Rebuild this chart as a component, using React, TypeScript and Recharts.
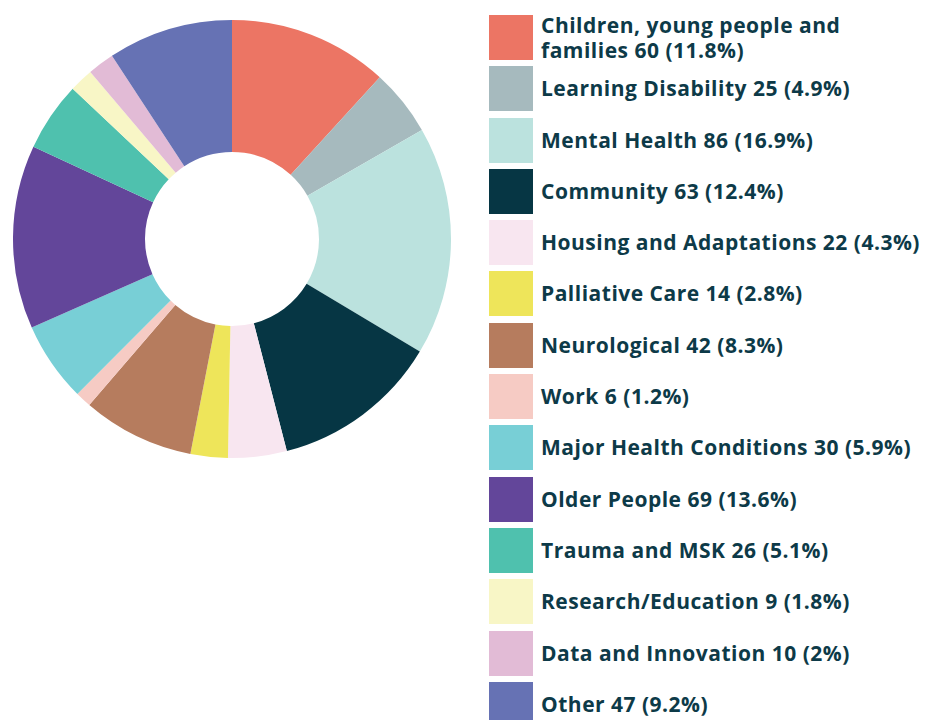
import { PieChart, Pie, Cell, Legend } from 'recharts';

const CATEGORIES = [
  'Children, young people and\nfamilies',
  'Learning Disability',
  'Mental Health',
  'Community',
  'Housing and Adaptations',
  'Palliative Care',
  'Neurological',
  'Work',
  'Major Health Conditions',
  'Older People',
  'Trauma and MSK',
  'Research/Education',
  'Data and Innovation',
  'Other',
];

const COUNTS = [60, 25, 86, 63, 22, 14, 42, 6, 30, 69, 26, 9, 10, 47];

const PERCENTS = ['11.8%', '4.9%', '16.9%', '12.4%', '4.3%', '2.8%', '8.3%', '1.2%', '5.9%', '13.6%', '5.1%', '1.8%', '2%', '9.2%'];

const COLORS = [
  '#EC7564', '#A6BABE', '#BBE2DE', '#063644', '#F8E6F0', '#EEE55A', '#B67C5E',
  '#F6CBC4', '#78CFD6', '#63469A', '#4FC1AE', '#F8F6C6', '#E2BBD6', '#6672B4',
];

const data = CATEGORIES.map((name, i) => ({ name, value: COUNTS[i] }));

const TEXT_COLOR = '#0D3A48';

function renderLegend() {
  return (
    <div style={{ fontFamily: '"Open Sans", sans-serif', fontWeight: 700, fontSize: 21, letterSpacing: 0.5, color: TEXT_COLOR }}>
      {data.map((d, i) => (
        <div key={d.name} style={{ display: 'flex', alignItems: 'center', height: 45, marginBottom: 6.3 }}>
          <div style={{ width: 44, height: 45, background: COLORS[i], flexShrink: 0 }} />
          <div style={{ marginLeft: 8, whiteSpace: 'pre-line', lineHeight: '25px' }}>
            {`${d.name} ${d.value} (${PERCENTS[i]})`}
          </div>
        </div>
      ))}
    </div>
  );
}

export default function App() {
  return (
    <div style={{ position: 'absolute', left: 0, top: 0 }}>
      <PieChart width={931} height={720} margin={{ top: 0, right: 0, bottom: 0, left: 0 }}>
        <Pie
          data={data}
          dataKey="value"
          nameKey="name"
          cx={232}
          cy={239}
          innerRadius={87}
          outerRadius={219}
          startAngle={90}
          endAngle={-270}
          stroke="none"
          isAnimationActive={false}
        >
          {data.map((_, i) => (
            <Cell key={`cell-${i}`} fill={COLORS[i]} />
          ))}
        </Pie>
        <Legend
          layout="vertical"
          content={renderLegend}
          wrapperStyle={{ left: 489, top: 15, width: 442 }}
        />
      </PieChart>
    </div>
  );
}
